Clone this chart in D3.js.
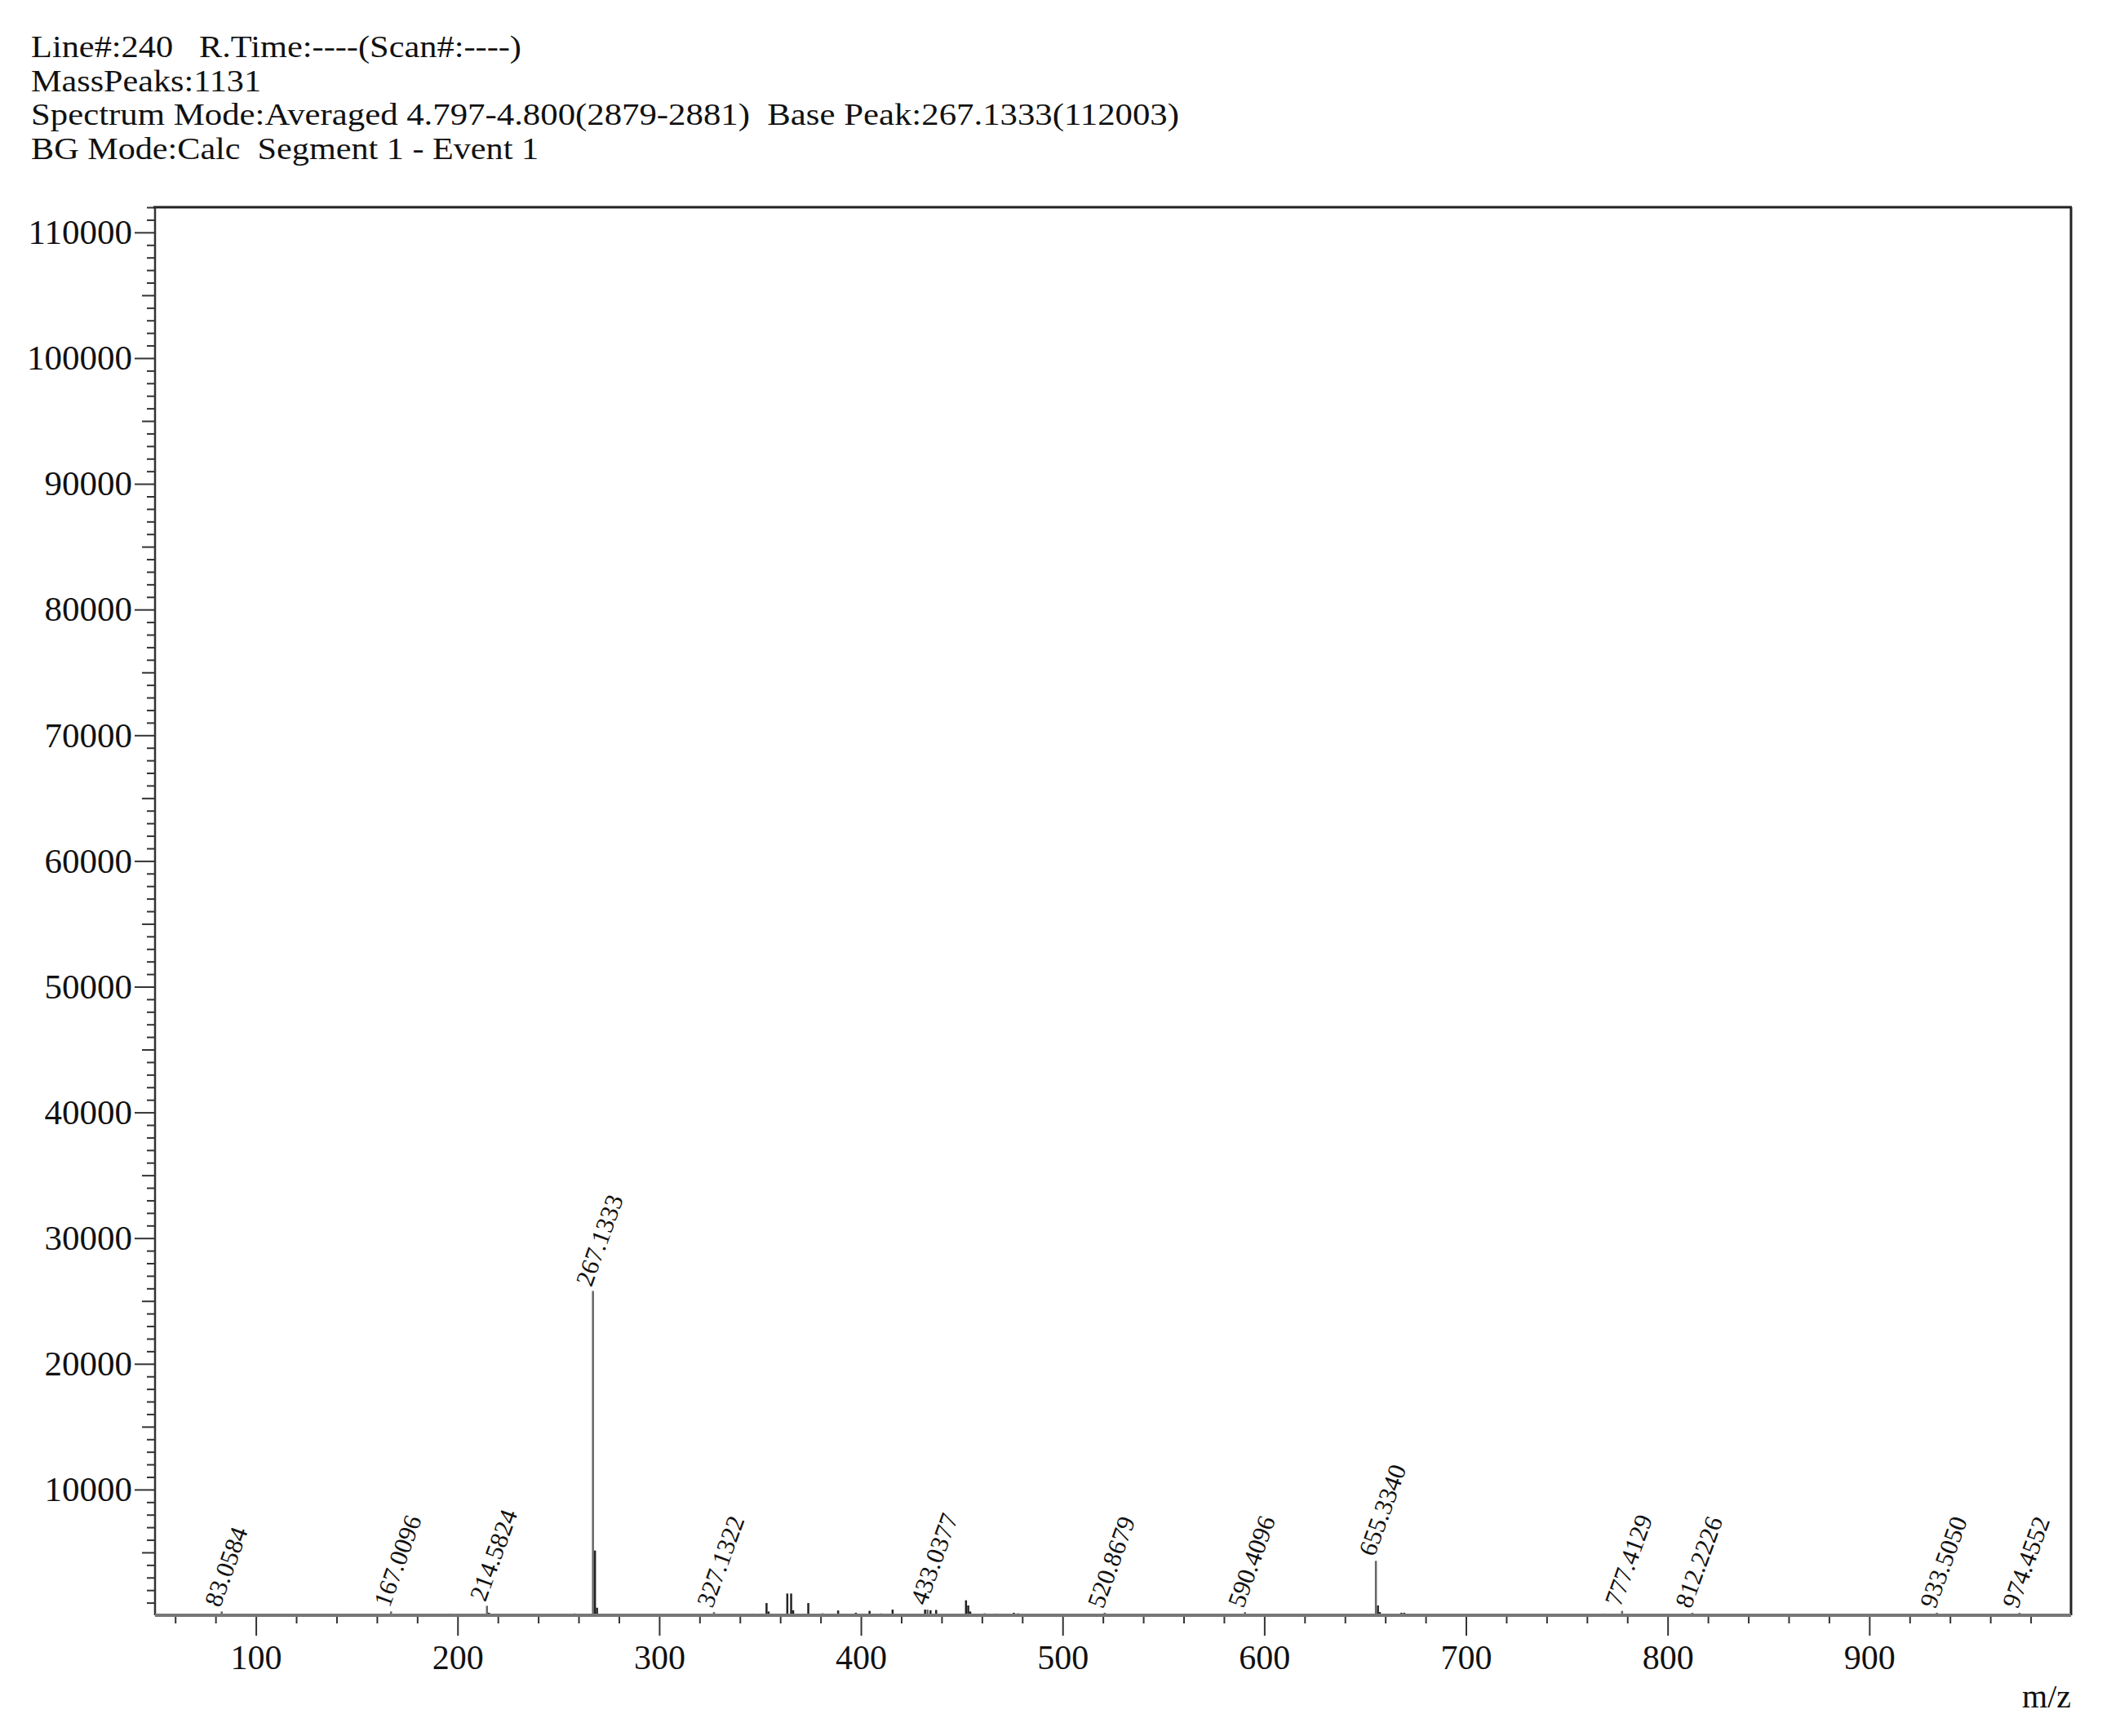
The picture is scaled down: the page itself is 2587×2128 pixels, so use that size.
<!DOCTYPE html>
<html>
<head>
<meta charset="utf-8">
<script src="https://cdn.jsdelivr.net/npm/d3@7"></script>
<style>
  html, body { margin: 0; padding: 0; background: #fff; }
  text { font-family: "Liberation Serif", "Times New Roman", serif; fill: #111; white-space: pre; }
</style>
</head>
<body>
<script>
"use strict";

// header text
const headerLines = [
  "Line#:240   R.Time:----(Scan#:----)",
  "MassPeaks:1131",
  "Spectrum Mode:Averaged 4.797-4.800(2879-2881)  Base Peak:267.1333(112003)",
  "BG Mode:Calc  Segment 1 - Event 1"
];

// labelled peaks (m/z, intensity)
const labelMz = [83.0584, 167.0096, 214.5824, 267.1333, 327.1322, 433.0377, 520.8679,
  590.4096, 655.3340, 777.4129, 812.2226, 933.5050, 974.4552];
const labelInt = [300, 300, 750, 25800, 250, 450, 200, 250, 4330, 350, 200, 200, 200];

// other visible peaks
const peakMz = [215.6, 268.1366, 269.14, 353.2, 354.2, 363.5, 365.4, 366.4, 373.9, 388.7,
  397.5, 404.3, 415.7, 431.8, 434.5, 437.3, 452.1, 453.2, 454.2, 461.3, 475.8, 478.0,
  656.34, 657.3, 668.0, 669.4];
const peakInt = [200, 5150, 600, 970, 300, 1730, 1730, 400, 970, 380,
  200, 350, 450, 450, 400, 420, 1190, 780, 300, 150, 200, 150,
  780, 250, 200, 200];

// baseline noise peaks
const noiseMz = [62, 71, 95, 104, 118, 131, 143, 152, 179, 188, 196, 229, 241, 252, 258,
  281, 292, 305, 318, 339, 346, 381, 393, 410, 423, 445, 467, 484, 491, 503, 512, 531,
  546, 559, 572, 583, 605, 617, 629, 641, 683, 691, 705, 718, 733, 746, 759, 768, 788,
  797, 826, 839, 851, 866, 879, 893, 905, 918, 947, 958, 986, 995];
const noiseInt = [120, 90, 110, 80, 130, 100, 90, 120, 100, 80, 140, 120, 90, 110, 150,
  130, 100, 90, 120, 100, 140, 160, 120, 150, 130, 110, 140, 120, 100, 110, 90, 100,
  120, 80, 110, 90, 100, 80, 120, 110, 130, 90, 100, 80, 110, 120, 90, 140, 100,
  90, 80, 110, 100, 90, 120, 80, 100, 90, 110, 80, 90, 100];

const xMajor = [100, 200, 300, 400, 500, 600, 700, 800, 900];
const yMajor = [10000, 20000, 30000, 40000, 50000, 60000, 70000, 80000, 90000, 100000, 110000];

// layout
const width = 2587;
const height = 2128;
const mLeft = 190, mRight = 2538, mTop = 254, mBottom = 1980;
const headerWidths = [601, 282, 1407, 622];

const svg = d3.select("body").append("svg")
  .attr("width", width)
  .attr("height", height)
  .style("display", "block");

const x = d3.scaleLinear().domain([50, 1000]).range([mLeft, mRight]);
const y = d3.scaleLinear().domain([0, 112003]).range([mBottom, mTop]);

// header (narrow, tightly stacked lines)
svg.append("g").selectAll("text")
  .data(headerLines)
  .enter()
  .append("text")
  .attr("x", 38)
  .attr("y", (d, i) => 70 + i * 41.5)
  .attr("font-size", 37.5)
  .attr("textLength", (d, i) => headerWidths[i])
  .attr("lengthAdjust", "spacingAndGlyphs")
  .text(d => d);

// y axis: minor, mid, major ticks
const yMinor = d3.range(0, 112001, 1000).filter(v => v % 5000 !== 0);
const yMid = d3.range(5000, 112001, 10000);

function styleAxis(g) {
  g.select(".domain").remove();
  g.selectAll(".tick line").attr("stroke", "#333").attr("stroke-width", 2);
}

svg.append("g")
  .attr("transform", `translate(${mLeft},0)`)
  .call(d3.axisLeft(y).tickValues(yMinor).tickSize(10).tickFormat(""))
  .call(styleAxis);
svg.append("g")
  .attr("transform", `translate(${mLeft},0)`)
  .call(d3.axisLeft(y).tickValues(yMid).tickSize(16).tickFormat(""))
  .call(styleAxis);
svg.append("g")
  .attr("transform", `translate(${mLeft},0)`)
  .call(d3.axisLeft(y).tickValues(yMajor).tickSize(25).tickPadding(3).tickFormat(d3.format("d")))
  .call(styleAxis)
  .call(g => g.selectAll(".tick text")
    .attr("font-family", "Liberation Serif")
    .attr("font-size", 43)
    .attr("fill", "#111"));

// x axis: minor and major ticks
const xMinor = d3.range(60, 1001, 20).filter(v => v % 100 !== 0);

svg.append("g")
  .attr("transform", `translate(0,${mBottom})`)
  .call(d3.axisBottom(x).tickValues(xMinor).tickSize(10).tickFormat(""))
  .call(styleAxis);
svg.append("g")
  .attr("transform", `translate(0,${mBottom})`)
  .call(d3.axisBottom(x).tickValues(xMajor).tickSize(25).tickPadding(8).tickFormat(d3.format("d")))
  .call(styleAxis)
  .call(g => g.selectAll(".tick text")
    .attr("font-family", "Liberation Serif")
    .attr("font-size", 42)
    .attr("fill", "#111")
    .attr("dy", "0.78em"));

// frame
svg.append("line").attr("x1", mLeft - 2).attr("x2", mRight + 1).attr("y1", mTop).attr("y2", mTop)
  .attr("stroke", "#222").attr("stroke-width", 3);
svg.append("line").attr("x1", mRight).attr("x2", mRight).attr("y1", mTop).attr("y2", mBottom)
  .attr("stroke", "#222").attr("stroke-width", 3);
svg.append("line").attr("x1", mLeft).attr("x2", mLeft).attr("y1", mTop).attr("y2", mBottom)
  .attr("stroke", "#333").attr("stroke-width", 2.5);

// spectrum sticks
const sticks = svg.append("g").attr("class", "sticks");

sticks.selectAll(".noise")
  .data(noiseMz.map((m, i) => ({ mz: m, v: noiseInt[i] })))
  .enter()
  .append("line")
  .attr("x1", d => x(d.mz)).attr("x2", d => x(d.mz))
  .attr("y1", y(0)).attr("y2", d => y(d.v))
  .attr("stroke", "#555").attr("stroke-width", 2);

sticks.selectAll(".peak")
  .data(peakMz.map((m, i) => ({ mz: m, v: peakInt[i] })))
  .enter()
  .append("line")
  .attr("x1", d => x(d.mz)).attr("x2", d => x(d.mz))
  .attr("y1", y(0)).attr("y2", d => y(d.v))
  .attr("stroke", "#222").attr("stroke-width", 2.5);

const labelled = labelMz.map((m, i) => ({ mz: m, v: labelInt[i] }));

sticks.selectAll(".lpeak")
  .data(labelled)
  .enter()
  .append("line")
  .attr("x1", d => x(d.mz)).attr("x2", d => x(d.mz))
  .attr("y1", y(0)).attr("y2", d => y(d.v))
  .attr("stroke", "#666").attr("stroke-width", 2.5);

// baseline (grey, noisy-looking)
svg.append("line").attr("x1", mLeft).attr("x2", mRight).attr("y1", mBottom).attr("y2", mBottom)
  .attr("stroke", "#777").attr("stroke-width", 4);

// peak labels
svg.append("g").selectAll("text")
  .data(labelled)
  .enter()
  .append("text")
  .attr("transform", d => `translate(${x(d.mz) - 2},${y(d.v) - 4}) rotate(-70)`)
  .attr("font-size", 31)
  .text(d => d.mz.toFixed(4));

// x axis title
svg.append("text")
  .attr("x", mRight)
  .attr("y", 2093)
  .attr("text-anchor", "end")
  .attr("font-size", 40)
  .text("m/z");
</script>
</body>
</html>
